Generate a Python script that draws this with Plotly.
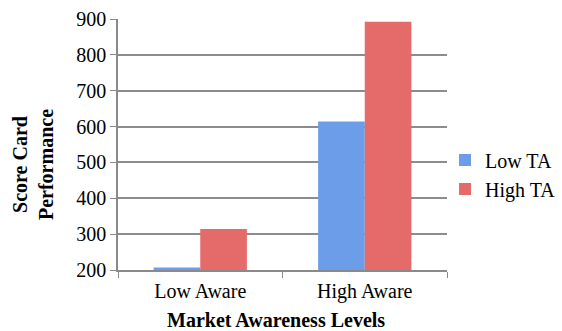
import plotly.graph_objects as go

categories = ["Low Aware", "High Aware"]
low_ta = [207, 614]
high_ta = [314, 892]
y_ticks = [200, 300, 400, 500, 600, 700, 800, 900]

FONT = "Liberation Serif"
FS = 20

fig = go.Figure()
fig.add_trace(go.Bar(name="Low TA", x=categories, y=low_ta,
                     marker=dict(color="#6C9DE8", line=dict(width=0))))
fig.add_trace(go.Bar(name="High TA", x=categories, y=high_ta,
                     marker=dict(color="#E56A6A", line=dict(width=0))))

fig.update_layout(
    width=562, height=331,
    margin=dict(l=118, r=115, t=19, b=61, autoexpand=False),
    paper_bgcolor="white", plot_bgcolor="white",
    barmode="group", bargap=0.433, bargroupgap=0,
    font=dict(family=FONT, size=FS, color="black"),
    showlegend=True,
    legend=dict(x=0.994, y=0.38, xanchor="left", yanchor="middle",
                font=dict(family=FONT, size=FS), itemwidth=30,
                tracegroupgap=0, bgcolor="rgba(0,0,0,0)"),
    xaxis=dict(showgrid=False, showline=True, linecolor="#8a8a8a", linewidth=1.5,
               ticks="outside", tickson="boundaries", ticklen=6, tickcolor="#8a8a8a",
               ticklabelstandoff=2,
               tickfont=dict(family=FONT, size=FS)),
    yaxis=dict(range=[200, 900], tickvals=y_ticks, showgrid=True, gridcolor="#8c8c8c",
               gridwidth=1.5, showline=True, linecolor="#8a8a8a", linewidth=1.5,
               ticks="outside", ticklen=6, tickcolor="#8a8a8a", zeroline=False,
               tickfont=dict(family=FONT, size=FS)),
    annotations=[
        dict(text="<b>Score Card<br>Performance</b>", xref="paper", yref="paper",
             x=-0.26, y=0.42, xanchor="center", yanchor="middle", textangle=-90,
             showarrow=False, font=dict(family=FONT, size=FS)),
        dict(text="<b>Market Awareness Levels</b>", xref="paper", yref="paper",
             x=0.48, y=-0.2, xanchor="center", yanchor="middle",
             showarrow=False, font=dict(family=FONT, size=FS)),
    ],
)

fig.write_html("out.html")
